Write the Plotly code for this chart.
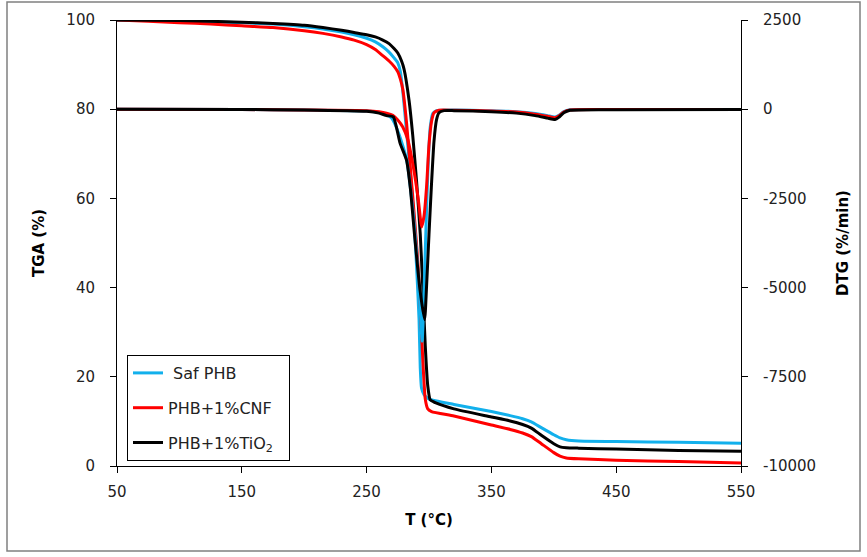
import plotly.graph_objects as go

# ---------------- data ----------------
names = ["\u00a0Saf PHB", "PHB+1%CNF", "PHB+1%TiO<sub>2</sub>\u00a0\u00a0"]
colors = ["#12B0EC", "#FF0000", "#000000"]

# TGA (%) curves
tga_T_blue = [50, 100, 150, 175, 200, 215, 230, 240, 250, 257, 263, 268, 272, 275, 277, 279, 282, 285, 288, 290, 292, 293, 294, 296, 300,
              320, 350, 365, 375, 382, 390, 400, 405, 410, 420, 450, 500, 550]
tga_blue = [100, 99.8, 99.4, 99.1, 98.5, 98.0, 97.3, 96.7, 95.9, 95.1, 94.0, 92.8, 91.5, 90.4, 88.5, 84, 75, 66, 55, 45, 33, 22, 17.5, 16, 15.0,
            13.8, 12.2, 11.3, 10.6, 9.9, 8.6, 7.0, 6.3, 5.9, 5.6, 5.5, 5.3, 5.1]

tga_T_red = [50, 75, 100, 125, 150, 175, 200, 215, 230, 240, 250, 257, 263, 268, 272, 275, 277, 279, 282, 285, 288, 291, 293, 295, 297, 299, 302,
             320, 350, 365, 375, 382, 390, 400, 405, 410, 420, 450, 500, 550]
tga_red = [100, 99.7, 99.4, 99.1, 98.7, 98.3, 97.6, 97.0, 96.2, 95.5, 94.5, 93.4, 92.0, 90.8, 89.6, 88.4, 86.8, 84.5, 77, 67, 57, 46, 36, 24, 15, 12.8, 12.2,
           11.2, 9.2, 8.2, 7.4, 6.6, 5.0, 3.0, 2.2, 1.8, 1.6, 1.3, 1.0, 0.7]

tga_T_black = [50, 100, 150, 175, 200, 215, 230, 240, 250, 257, 263, 268, 272, 275, 278, 280, 284, 287, 290, 293, 295, 297, 299, 301, 305,
               320, 350, 365, 375, 382, 390, 400, 405, 410, 420, 450, 500, 550]
tga_black = [100, 99.9, 99.5, 99.2, 98.8, 98.3, 97.7, 97.2, 96.7, 96.2, 95.5, 94.7, 93.6, 92.6, 90.8, 89, 82, 74, 64, 52, 40, 27, 18, 14.8, 14.2,
             12.8, 11.0, 10.1, 9.3, 8.5, 6.9, 5.0, 4.3, 4.1, 4.0, 3.8, 3.5, 3.3]

# DTG (%/min) curves
dtg_T_blue = [50, 150, 200, 250, 260, 266, 270, 276, 282, 287, 290, 292.5, 294.5, 297, 299, 301, 303, 306,
              320, 350, 370, 385, 395, 401, 404, 408, 413, 450, 550]
dtg_blue = [0, -10, -20, -50, -90, -160, -250, -700, -1400, -2800, -4000, -5300, -6500, -4000, -1800, -500, -120, -40,
            -20, -40, -70, -120, -180, -220, -170, -70, -15, -10, -5]

dtg_T_red = [50, 150, 200, 250, 260, 266, 271, 275, 279, 283, 286, 289, 291.5, 294.1, 296, 298, 300, 302, 304, 308,
             320, 350, 370, 385, 395, 401, 404, 408, 413, 450, 550]
dtg_red = [0, -10, -20, -40, -70, -110, -170, -300, -500, -850, -1340, -1950, -2550, -3300, -3000, -2200, -1000, -350, -100, -30,
           -30, -50, -80, -140, -200, -240, -190, -80, -20, -10, -5]

dtg_T_black = [50, 150, 200, 250, 260, 266, 271.4, 276.8, 282, 285, 288.8, 292.8, 296.5, 298, 300, 302, 304, 306, 308, 312,
               320, 350, 370, 385, 395, 401, 404, 408, 413, 450, 550]
dtg_black = [0, -10, -20, -60, -110, -180, -215, -950, -1430, -2200, -3670, -5070, -5900, -5000, -3500, -2100, -900, -300, -100, -40,
             -40, -70, -110, -180, -250, -290, -230, -100, -30, -15, -10]

x_ticks = [50, 150, 250, 350, 450, 550]
y1_ticks = [0, 20, 40, 60, 80, 100]
y2_ticks = [-10000, -7500, -5000, -2500, 0, 2500]
y2_text = ["-10000", "-7500", "-5000", "-2500", "0", "2500"]

tga_T = [tga_T_blue, tga_T_red, tga_T_black]
tga = [tga_blue, tga_red, tga_black]
dtg_T = [dtg_T_blue, dtg_T_red, dtg_T_black]
dtg = [dtg_blue, dtg_red, dtg_black]

# ---------------- figure ----------------
fig = go.Figure()
LW = 3
for i in range(3):
    fig.add_trace(go.Scatter(x=dtg_T[i], y=dtg[i], yaxis="y2", mode="lines",
                             line=dict(color=colors[i], width=LW, shape="spline", smoothing=0.5),
                             name=names[i], legendgroup=f"g{i}", showlegend=False))
for i in range(3):
    fig.add_trace(go.Scatter(x=tga_T[i], y=tga[i], mode="lines",
                             line=dict(color=colors[i], width=LW, shape="spline", smoothing=0.5),
                             name=names[i], legendgroup=f"g{i}", showlegend=True))

FONT = "DejaVu Sans"
L, R, T, B = 117, 126, 20, 91
W, H = 867, 557
pw, ph = W - L - R, H - T - B

fig.update_layout(
    width=W, height=H,
    margin=dict(l=L, r=R, t=T, b=B),
    paper_bgcolor="white", plot_bgcolor="white",
    font=dict(family=FONT, size=15, color="#222222"),
    showlegend=True,
    legend=dict(x=(127 - L) / pw, y=(466 - 355) / ph, xanchor="left", yanchor="top",
                bordercolor="#000000", borderwidth=1, bgcolor="white",
                font=dict(family=FONT, size=16, color="#222222"),
                tracegroupgap=11, traceorder="grouped"),
    xaxis=dict(range=[50, 550], tickvals=x_ticks, showline=True, linecolor="#000000", linewidth=1,
               ticks="outside", ticklen=6, tickcolor="#000000", showgrid=False, zeroline=False,
               ticklabelstandoff=6,
               title=dict(text="<b>T (°C)</b>", font=dict(family=FONT, size=15, color="#000000"), standoff=14)),
    yaxis=dict(range=[0, 100], tickvals=y1_ticks, showline=True, linecolor="#000000", linewidth=1,
               ticks="outside", ticklen=6, tickcolor="#000000", showgrid=False, zeroline=False,
               ticklabelstandoff=12,
               title=dict(text="<b>TGA (%)</b>", font=dict(family=FONT, size=15, color="#000000"), standoff=18)),
    yaxis2=dict(range=[-10000, 2500], tickvals=y2_ticks, ticktext=y2_text, overlaying="y", side="right",
                showline=True, linecolor="#000000", linewidth=1,
                ticks="outside", ticklen=6, tickcolor="#000000", showgrid=False, zeroline=False,
                ticklabelstandoff=12,
                title=dict(text="<b>DTG (%/min)</b>", font=dict(family=FONT, size=15, color="#000000"), standoff=22)),
    shapes=[dict(type="rect", xref="paper", yref="paper",
                 x0=(7 - L) / pw, x1=(860 - L) / pw, y0=(466 - 551) / ph, y1=(466 - 2) / ph,
                 line=dict(color="#808080", width=1.5), fillcolor="rgba(0,0,0,0)", layer="below")],
)

fig.write_html("out.html")
